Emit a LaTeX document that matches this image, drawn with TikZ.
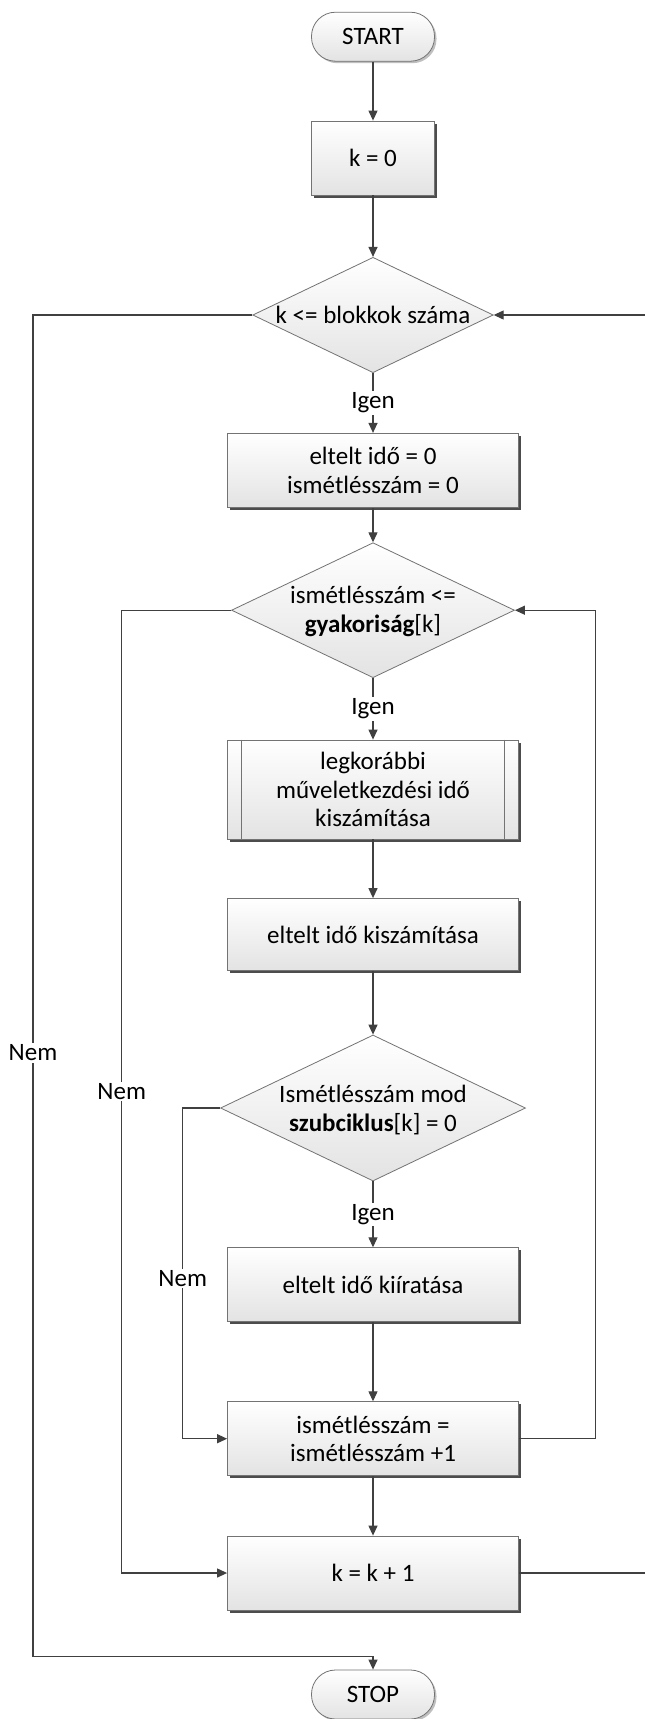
\documentclass[tikz,border=0pt]{standalone}
\usepackage{fontspec}
\setmainfont{Carlito}
\usetikzlibrary{arrows.meta,shapes.geometric,shadows}
\begin{document}
\begin{tikzpicture}[x=1pt,y=-1pt,
  every node/.style={font=\fontsize{25}{28.5}\selectfont, text=black},
  shadebox/.style={draw=black!55, line width=0.8pt, top color=white, bottom color=black!11},
  procbox/.style={shadebox, rectangle, minimum width=291pt, inner sep=0pt, align=center,
    drop shadow={shadow xshift=2.5pt, shadow yshift=-2.5pt, fill=black!70, opacity=1}},
  term/.style={shadebox, rectangle, rounded corners=24pt, minimum width=123pt, minimum height=49pt, inner sep=0pt,
    drop shadow={shadow xshift=2pt, shadow yshift=-2pt, fill=black!25, opacity=1}},
  decision/.style={shadebox, diamond, inner sep=0pt},
  conn/.style={draw=black!75, line width=1.2pt, -{Triangle[length=10pt,width=9pt]}},
  thinline/.style={draw=black!55, line width=0.8pt},
  lbl/.style={fill=white, inner sep=1.5pt}
]
\fill[white] (0,0) rectangle (645,1719);
\useasboundingbox (0,0) rectangle (645,1719);

\node[term] (start) at (373,36.7) {START};
\node[procbox, minimum width=122.6pt, minimum height=74pt] (k0) at (373,158) {k = 0};
\node[decision, minimum width=240.6pt, minimum height=115.4pt] (d1) at (373,315) {};
\node (d1t) at (d1) {k <= blokkok száma};
\node[procbox, minimum height=74.4pt] (b2) at (373,470.5) {eltelt idő = 0\\ismétlésszám = 0};
\node[decision, minimum width=283pt, minimum height=135pt] (d2) at (373,610.2) {};
\node[align=center] (d2t) at (373,611.5) {ismétlésszám <=\\\textbf{gyakoriság}[k]};
\node[procbox, minimum height=99pt] (sub) at (373,789.5) {legkorábbi\\műveletkezdési idő\\kiszámítása};
\draw[thinline] ([xshift=14.5pt]sub.north west) -- ([xshift=14.5pt]sub.south west);
\draw[thinline] ([xshift=-14.5pt]sub.north east) -- ([xshift=-14.5pt]sub.south east);
\node[procbox, minimum height=72pt] (calc) at (373,934.5) {eltelt idő kiszámítása};
\node[decision, minimum width=305pt, minimum height=146pt] (d3) at (373,1108) {};
\node[align=center] (d3t) at (373,1110) {Ismétlésszám mod\\\textbf{szubciklus}[k] = 0};
\node[procbox, minimum height=73.4pt] (kiir) at (373,1284.4) {eltelt idő kiíratása};
\node[procbox, minimum height=74pt] (inc) at (373,1438.7) {ismétlésszám =\\ismétlésszám +1};
\node[procbox, minimum height=74pt] (k1) at (373,1573) {k = k + 1};
\node[term] (stop) at (373,1694.5) {STOP};

\draw[conn] (start.south) -- (k0.north);
\draw[conn] (k0.south) -- (d1.north);
\draw[conn] (d1.south) -- node[lbl]{Igen} (b2.north);
\draw[conn] (b2.south) -- (d2.north);
\draw[conn] (d2.south) -- node[lbl]{Igen} (sub.north);
\draw[conn] (sub.south) -- (calc.north);
\draw[conn] (calc.south) -- (d3.north);
\draw[conn] (d3.south) -- node[lbl]{Igen} (kiir.north);
\draw[conn] (kiir.south) -- (inc.north);
\draw[conn] (inc.south) -- (k1.north);

\coordinate (c1) at (33,1656.7);
\draw[conn] (d1.west) -| node[lbl,pos=0.775]{Nem} (c1) -| (stop.north);
\coordinate (c2) at (121.7,1573);
\draw[conn] (d2.west) -| node[lbl,pos=0.75]{Nem} (c2) -- (k1.west);
\coordinate (c3) at (182.7,1438.7);
\draw[conn] (d3.west) -| node[lbl,pos=0.758]{Nem} (c3) -- (inc.west);
\coordinate (r2) at (595.5,1438.7);
\draw[conn] (inc.east) -- (r2) |- (d2.east);
\coordinate (r1) at (646,1573);
\draw[conn] (k1.east) -- (r1) |- (d1.east);
\end{tikzpicture}
\end{document}
